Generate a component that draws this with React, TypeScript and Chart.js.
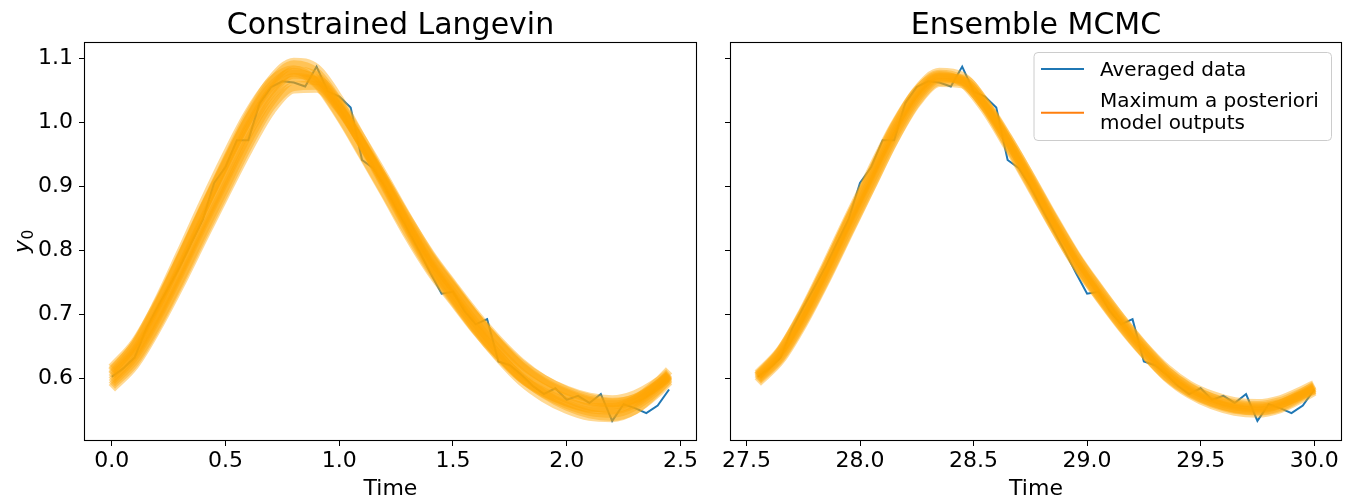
import React, { useEffect, useRef } from "react";
import { Chart, registerables } from "chart.js";
Chart.register(...registerables);

const FONT = '"DejaVu Sans", "Liberation Sans", sans-serif';
const BLUE = "#1f77b4";
const ORANGE_LINE = "rgba(255,165,0,0.42)";
const ORANGE_LEGEND = "#ff7f0e";

const panelTitles = ["Constrained Langevin", "Ensemble MCMC"];
const xAxisLabel = "Time";
const legendData = "Averaged data";
const legendModel = ["Maximum a posteriori", "model outputs"];

const langevinTimes = [0, 0.05, 0.1, 0.15, 0.2, 0.25, 0.3, 0.35, 0.4, 0.45, 0.5, 0.55, 0.6, 0.65, 0.7, 0.75, 0.8, 0.85, 0.9, 0.95, 1, 1.05, 1.1, 1.15, 1.2, 1.25, 1.3, 1.35, 1.4, 1.45, 1.5, 1.55, 1.6, 1.65, 1.7, 1.75, 1.8, 1.85, 1.9, 1.95, 2, 2.05, 2.1, 2.15, 2.2, 2.25, 2.3, 2.35, 2.4, 2.45];
const mcmcTimes = [27.55, 27.6, 27.65, 27.7, 27.75, 27.8, 27.85, 27.9, 27.95, 28, 28.05, 28.1, 28.15, 28.2, 28.25, 28.3, 28.35, 28.4, 28.45, 28.5, 28.55, 28.6, 28.65, 28.7, 28.75, 28.8, 28.85, 28.9, 28.95, 29, 29.05, 29.1, 29.15, 29.2, 29.25, 29.3, 29.35, 29.4, 29.45, 29.5, 29.55, 29.6, 29.65, 29.7, 29.75, 29.8, 29.85, 29.9, 29.95, 30];

const averagedData = [
  0.602, 0.615, 0.632, 0.676, 0.71, 0.742, 0.775, 0.812, 0.848, 0.905,
  0.93, 0.972, 0.972, 1.03, 1.055, 1.064, 1.062, 1.056, 1.087, 1.048,
  1.04, 1.023, 0.941, 0.928, 0.9, 0.866, 0.833, 0.8, 0.765, 0.732,
  0.735, 0.705, 0.684, 0.692, 0.626, 0.62, 0.605, 0.588, 0.575, 0.584,
  0.566, 0.572, 0.561, 0.575, 0.533, 0.559, 0.553, 0.545, 0.557, 0.582,
];

const langevinCurveTimes = [0, 0.1, 0.2, 0.3, 0.4, 0.5, 0.6, 0.7, 0.8, 0.9, 1.0, 1.1, 1.2, 1.3, 1.4, 1.5, 1.6, 1.7, 1.8, 1.9, 2.0, 2.1, 2.2, 2.3, 2.4, 2.45];
const mcmcCurveTimes = [27.55, 27.65, 27.75, 27.85, 27.95, 28.05, 28.15, 28.25, 28.35, 28.45, 28.55, 28.65, 28.75, 28.85, 28.95, 29.05, 29.15, 29.25, 29.35, 29.45, 29.55, 29.65, 29.75, 29.85, 29.95, 30];

const langevinMap1 = [0.600, 0.638, 0.698, 0.768, 0.843, 0.915, 0.988, 1.046, 1.075, 1.068, 1.024, 0.966, 0.904, 0.840, 0.781, 0.733, 0.686, 0.644, 0.608, 0.584, 0.568, 0.556, 0.552, 0.563, 0.589, 0.604];
const langevinMap2 = [0.612, 0.652, 0.714, 0.786, 0.862, 0.934, 1.005, 1.062, 1.090, 1.078, 1.030, 0.968, 0.903, 0.837, 0.776, 0.726, 0.678, 0.636, 0.600, 0.576, 0.559, 0.548, 0.545, 0.556, 0.582, 0.600];
const langevinMap3 = [0.588, 0.624, 0.682, 0.750, 0.822, 0.893, 0.964, 1.025, 1.056, 1.058, 1.022, 0.968, 0.910, 0.848, 0.790, 0.742, 0.696, 0.654, 0.619, 0.594, 0.577, 0.565, 0.561, 0.568, 0.590, 0.605];
const langevinMap4 = [0.604, 0.642, 0.702, 0.772, 0.847, 0.920, 0.993, 1.050, 1.080, 1.072, 1.026, 0.965, 0.900, 0.834, 0.773, 0.724, 0.675, 0.632, 0.595, 0.569, 0.551, 0.540, 0.538, 0.550, 0.580, 0.598];
const langevinMap5 = [0.596, 0.634, 0.694, 0.764, 0.838, 0.910, 0.982, 1.040, 1.070, 1.064, 1.022, 0.966, 0.906, 0.844, 0.788, 0.741, 0.696, 0.656, 0.622, 0.598, 0.581, 0.570, 0.566, 0.574, 0.594, 0.608];
const langevinMap6 = [0.616, 0.655, 0.716, 0.788, 0.864, 0.938, 1.010, 1.066, 1.094, 1.084, 1.036, 0.974, 0.908, 0.840, 0.778, 0.728, 0.680, 0.637, 0.601, 0.575, 0.556, 0.544, 0.540, 0.550, 0.577, 0.595];
const langevinMap7 = [0.584, 0.620, 0.678, 0.745, 0.817, 0.888, 0.957, 1.018, 1.052, 1.053, 1.020, 0.966, 0.910, 0.850, 0.794, 0.746, 0.700, 0.659, 0.624, 0.598, 0.580, 0.568, 0.562, 0.568, 0.588, 0.602];
const langevinMap8 = [0.606, 0.648, 0.712, 0.786, 0.862, 0.936, 1.004, 1.056, 1.078, 1.060, 1.010, 0.950, 0.888, 0.824, 0.767, 0.720, 0.674, 0.634, 0.600, 0.578, 0.563, 0.554, 0.554, 0.566, 0.594, 0.612];
const langevinMap9 = [0.610, 0.652, 0.718, 0.794, 0.872, 0.946, 1.014, 1.064, 1.082, 1.062, 1.012, 0.952, 0.890, 0.828, 0.770, 0.722, 0.676, 0.636, 0.602, 0.578, 0.562, 0.552, 0.550, 0.560, 0.586, 0.603];
const langevinMap10 = [0.592, 0.628, 0.686, 0.754, 0.828, 0.900, 0.972, 1.032, 1.066, 1.066, 1.030, 0.974, 0.914, 0.851, 0.792, 0.744, 0.697, 0.655, 0.618, 0.592, 0.575, 0.563, 0.558, 0.566, 0.590, 0.606];

const mcmcMap1 = [0.600, 0.636, 0.694, 0.763, 0.837, 0.910, 0.982, 1.040, 1.070, 1.066, 1.028, 0.972, 0.910, 0.846, 0.786, 0.735, 0.688, 0.645, 0.608, 0.582, 0.566, 0.556, 0.553, 0.559, 0.575, 0.584];
const mcmcMap2 = [0.607, 0.644, 0.703, 0.773, 0.848, 0.921, 0.993, 1.050, 1.078, 1.072, 1.031, 0.972, 0.908, 0.842, 0.781, 0.730, 0.682, 0.639, 0.601, 0.575, 0.558, 0.548, 0.545, 0.552, 0.569, 0.579];
const mcmcMap3 = [0.593, 0.628, 0.685, 0.753, 0.826, 0.899, 0.971, 1.030, 1.062, 1.060, 1.025, 0.972, 0.912, 0.850, 0.791, 0.741, 0.694, 0.651, 0.615, 0.589, 0.573, 0.563, 0.560, 0.566, 0.581, 0.590];
const mcmcMap4 = [0.602, 0.640, 0.699, 0.769, 0.844, 0.917, 0.988, 1.044, 1.071, 1.064, 1.024, 0.967, 0.905, 0.841, 0.781, 0.731, 0.685, 0.643, 0.606, 0.580, 0.563, 0.552, 0.548, 0.554, 0.572, 0.582];
const mcmcMap5 = [0.598, 0.633, 0.690, 0.758, 0.831, 0.904, 0.977, 1.036, 1.068, 1.068, 1.032, 0.977, 0.915, 0.851, 0.791, 0.739, 0.691, 0.648, 0.611, 0.585, 0.569, 0.560, 0.557, 0.563, 0.578, 0.586];
const mcmcMap6 = [0.604, 0.642, 0.702, 0.773, 0.848, 0.921, 0.992, 1.048, 1.075, 1.066, 1.024, 0.965, 0.902, 0.838, 0.778, 0.728, 0.681, 0.639, 0.603, 0.578, 0.562, 0.553, 0.551, 0.559, 0.577, 0.588];
const mcmcMap7 = [0.596, 0.631, 0.688, 0.755, 0.828, 0.900, 0.972, 1.032, 1.064, 1.064, 1.030, 0.976, 0.916, 0.853, 0.793, 0.742, 0.694, 0.650, 0.612, 0.586, 0.569, 0.558, 0.555, 0.560, 0.574, 0.582];
const mcmcMap8 = [0.604, 0.643, 0.705, 0.777, 0.852, 0.925, 0.995, 1.049, 1.073, 1.062, 1.020, 0.962, 0.900, 0.837, 0.777, 0.727, 0.680, 0.638, 0.602, 0.577, 0.561, 0.551, 0.549, 0.556, 0.574, 0.585];

const langevinCurves = [langevinMap1, langevinMap2, langevinMap3, langevinMap4, langevinMap5, langevinMap6, langevinMap7, langevinMap8, langevinMap9, langevinMap10];
const mcmcCurves = [mcmcMap1, mcmcMap2, mcmcMap3, mcmcMap4, mcmcMap5, mcmcMap6, mcmcMap7, mcmcMap8];

const yTicks = [0.6, 0.7, 0.8, 0.9, 1.0, 1.1];
const langevinXTicks = [0, 0.5, 1.0, 1.5, 2.0, 2.5];
const mcmcXTicks = [27.5, 28.0, 28.5, 29.0, 29.5, 30.0];
const yRange = [0.5015, 1.1255];
const langevinXRange = [-0.1225, 2.5725];
const mcmcXRange = [27.4275, 30.1225];

type PanelProps = {
  title: string;
  times: number[];
  curveTimes: number[];
  curves: number[][];
  xTicks: number[];
  xRange: number[];
  showYLabels: boolean;
  showLegend: boolean;
  canvasWidth: number;
  yAxisWidth: number;
  padRight: number;
  lineWidth: number;
};

function Panel(p: PanelProps) {
  const ref = useRef<HTMLCanvasElement>(null);
  useEffect(() => {
    if (!ref.current) return;
    const datasets: any[] = p.curves.map((c) => ({
      data: p.curveTimes.map((t, i) => ({ x: t, y: c[i] })),
      borderColor: ORANGE_LINE,
      borderWidth: p.lineWidth,
      pointRadius: 0,
      cubicInterpolationMode: "monotone",
      fill: false,
    }));
    datasets.push({
      data: p.times.map((t, i) => ({ x: t, y: averagedData[i] })),
      borderColor: BLUE,
      borderWidth: 2,
      pointRadius: 0,
      tension: 0,
      fill: false,
    });
    const decor = {
      id: "decor",
      afterDraw(chart: any) {
        const { ctx, chartArea: a } = chart;
        ctx.save();
        ctx.strokeStyle = "#000";
        ctx.lineWidth = 1.1;
        ctx.strokeRect(Math.round(a.left) + 0.5, Math.round(a.top) + 0.5, Math.round(a.right - a.left) - 1, Math.round(a.bottom - a.top) - 1);
        ctx.fillStyle = "#000";
        ctx.font = `30px ${FONT}`;
        ctx.textAlign = "center";
        ctx.textBaseline = "alphabetic";
        ctx.fillText(p.title, (a.left + a.right) / 2, a.top - 8.5);
        if (p.showYLabels) {
          ctx.translate(29, (a.top + a.bottom) / 2);
          ctx.rotate(-Math.PI / 2);
          ctx.font = `italic 22px ${FONT}`;
          const wy = ctx.measureText("y").width;
          ctx.font = `15.5px ${FONT}`;
          const w0 = ctx.measureText("0").width;
          const start = -(wy + w0) / 2;
          ctx.textAlign = "left";
          ctx.font = `italic 22px ${FONT}`;
          ctx.fillText("y", start, 0);
          ctx.font = `15.5px ${FONT}`;
          ctx.fillText("0", start + wy + 0.5, 4);
          ctx.setTransform(1, 0, 0, 1, 0, 0);
        }
        if (p.showLegend) {
          const bl = a.right - 308;
          const br = a.right - 10.5;
          const bt = a.top + 10.5;
          const bb = a.top + 98.5;
          ctx.beginPath();
          ctx.roundRect(bl, bt, br - bl, bb - bt, 4);
          ctx.fillStyle = "rgba(255,255,255,0.8)";
          ctx.fill();
          ctx.strokeStyle = "#cccccc";
          ctx.lineWidth = 1;
          ctx.stroke();
          ctx.lineWidth = 2;
          ctx.strokeStyle = BLUE;
          ctx.beginPath();
          ctx.moveTo(bl + 7, a.top + 27);
          ctx.lineTo(bl + 50, a.top + 27);
          ctx.stroke();
          ctx.strokeStyle = ORANGE_LEGEND;
          ctx.beginPath();
          ctx.moveTo(bl + 7, a.top + 70.7);
          ctx.lineTo(bl + 50, a.top + 70.7);
          ctx.stroke();
          ctx.fillStyle = "#000";
          ctx.font = `20px ${FONT}`;
          ctx.textAlign = "left";
          ctx.textBaseline = "alphabetic";
          ctx.fillText(legendData, bl + 66, a.top + 34);
          ctx.fillText(legendModel[0], bl + 66, a.top + 64.7);
          ctx.fillText(legendModel[1], bl + 66, a.top + 87);
        }
        ctx.restore();
      },
    };
    const chart = new Chart(ref.current, {
      type: "line",
      data: { datasets },
      plugins: [decor],
      options: {
        animation: false,
        responsive: false,
        events: [],
        layout: { padding: { left: 0, right: p.padRight, top: 42, bottom: 0 } },
        plugins: { legend: { display: false }, tooltip: { enabled: false }, title: { display: false } },
        scales: {
          x: {
            type: "linear",
            min: p.xRange[0],
            max: p.xRange[1],
            afterBuildTicks: (s: any) => {
              s.ticks = p.xTicks.map((v) => ({ value: v }));
            },
            ticks: {
              font: { family: FONT, size: 22 },
              color: "#000",
              padding: 2,
              maxRotation: 0,
              autoSkip: false,
              callback: (v: any) => Number(v).toFixed(1),
            },
            grid: { drawOnChartArea: false, drawTicks: true, tickLength: 5, tickColor: "#000", lineWidth: 1 },
            border: { display: false },
            title: {
              display: true,
              text: xAxisLabel,
              color: "#000",
              font: { family: FONT, size: 22, lineHeight: 1 },
              padding: { top: 0, bottom: 0 },
            },
            afterFit: (s: any) => {
              s.height = 59;
            },
          },
          y: {
            type: "linear",
            min: yRange[0],
            max: yRange[1],
            afterBuildTicks: (s: any) => {
              s.ticks = yTicks.map((v) => ({ value: v }));
            },
            ticks: {
              font: { family: FONT, size: 22 },
              color: "#000",
              padding: 6,
              autoSkip: false,
              callback: (v: any) => (p.showYLabels ? Number(v).toFixed(1) : ""),
            },
            grid: { drawOnChartArea: false, drawTicks: true, tickLength: 5, tickColor: "#000", lineWidth: 1 },
            border: { display: false },
            afterFit: (s: any) => {
              s.width = p.yAxisWidth;
            },
          },
        },
      } as any,
    });
    return () => chart.destroy();
  }, []);
  return <canvas ref={ref} width={p.canvasWidth} height={500} style={{ display: "block", width: p.canvasWidth, height: 500 }} />;
}

export default function App() {
  return (
    <div style={{ position: "fixed", left: 0, top: 0, width: 1356, height: 500, display: "flex", background: "#fff" }}>
      <Panel
        title={panelTitles[0]}
        times={langevinTimes}
        curveTimes={langevinCurveTimes}
        curves={langevinCurves}
        xTicks={langevinXTicks}
        xRange={langevinXRange}
        showYLabels={true}
        showLegend={false}
        canvasWidth={700}
        yAxisWidth={84}
        padRight={3}
        lineWidth={9}
      />
      <Panel
        title={panelTitles[1]}
        times={mcmcTimes}
        curveTimes={mcmcCurveTimes}
        curves={mcmcCurves}
        xTicks={mcmcXTicks}
        xRange={mcmcXRange}
        showYLabels={false}
        showLegend={true}
        canvasWidth={656}
        yAxisWidth={30}
        padRight={14}
        lineWidth={9}
      />
    </div>
  );
}
